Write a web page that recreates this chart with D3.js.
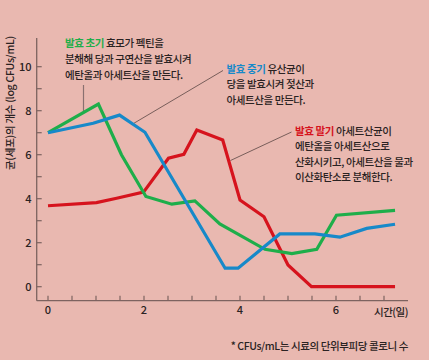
<!DOCTYPE html>
<html><head><meta charset="utf-8">
<script src="https://cdn.jsdelivr.net/npm/d3@7/dist/d3.min.js"></script>
<style>
html,body{margin:0;padding:0;background:#e9b8b0;}
svg{display:block;font-family:"Noto Sans CJK KR","Noto Sans",sans-serif;}
text{font-weight:500;}
</style></head><body>
<svg id="c" width="429" height="360"></svg>
<script>
const xTicks = [0, 2, 4, 6];
const yTicks = [0, 2, 4, 6, 8, 10];
const seriesNames = ["초기", "중기", "말기"];
const greenDays = [0, 1.05, 1.53, 2.04, 2.58, 3.06, 3.58, 4.52, 5.08, 5.6, 6.01, 7.23];
const greenVals = [7.0, 8.3, 6.0, 4.1, 3.75, 3.9, 2.85, 1.7, 1.5, 1.7, 3.25, 3.47];
const blueDays = [0, 0.94, 1.49, 2.02, 3.69, 3.96, 4.83, 5.56, 6.08, 6.64, 7.23];
const blueVals = [7.0, 7.43, 7.8, 7.02, 0.84, 0.84, 2.4, 2.4, 2.25, 2.65, 2.84];
const redDays = [0, 1.01, 1.43, 1.99, 2.51, 2.83, 3.10, 3.64, 4.0, 4.5, 5.0, 5.49, 7.23];
const redVals = [3.68, 3.82, 4.02, 4.3, 5.84, 6.02, 7.12, 6.67, 3.94, 3.18, 0.99, 0, 0];

const svg = d3.select("#c");
const x = d3.scaleLinear().domain([0, 7]).range([48, 384]);
const y = d3.scaleLinear().domain([0, 10]).range([286.7, 66.7]);
const axisCol = "#7d6360";
const axisX = 36.7, axisY = 300.7;

svg.append("line").attr("x1", axisX).attr("x2", axisX).attr("y1", 38).attr("y2", axisY)
  .attr("stroke", axisCol).attr("stroke-width", 1.3);
svg.append("line").attr("x1", axisX).attr("x2", 408).attr("y1", axisY).attr("y2", axisY)
  .attr("stroke", axisCol).attr("stroke-width", 1.3);

const yMinor = d3.range(0, 11, 1);
svg.selectAll(".yt").data(yMinor).enter().append("line")
  .attr("x1", axisX).attr("x2", axisX + 5).attr("y1", d => y(d)).attr("y2", d => y(d))
  .attr("stroke", axisCol).attr("stroke-width", 1.2);
svg.selectAll(".yl").data(yTicks).enter().append("text")
  .attr("x", 31.5).attr("y", d => y(d)).attr("dy", "0.35em").attr("text-anchor", "end")
  .attr("font-size", 11).attr("fill", "#2a2222").text(d => d);

const xMinor = d3.range(0, 7.01, 0.5);
svg.selectAll(".xt").data(xMinor).enter().append("line")
  .attr("x1", d => x(d)).attr("x2", d => x(d)).attr("y1", axisY).attr("y2", axisY - 5)
  .attr("stroke", axisCol).attr("stroke-width", 1.2);
svg.selectAll(".xl").data(xTicks).enter().append("text")
  .attr("x", d => x(d)).attr("y", 310).attr("dy", "0.35em").attr("text-anchor", "middle")
  .attr("font-size", 11).attr("fill", "#2a2222").text(d => d);

svg.append("text").attr("x", 408).attr("y", 312).attr("dy", "0.35em").attr("text-anchor", "end")
  .attr("font-size", 10.5).attr("fill", "#2a2222").attr("letter-spacing", -0.5).text("시간(일)");

svg.append("text").attr("transform", "translate(10,103) rotate(-90)")
  .attr("text-anchor", "middle").attr("dy", "0.35em")
  .attr("font-size", 10.5).attr("fill", "#2a2222").attr("letter-spacing", -0.3)
  .text("균(세포)의 개수 (log CFUs/mL)");

const leadCol = "#5a4644";
svg.append("line").attr("x1", 83.5).attr("y1", 85).attr("x2", 83.5).attr("y2", 111)
  .attr("stroke", "#8a7070").attr("stroke-width", 1.2);
svg.append("line").attr("x1", 223).attr("y1", 70.5).attr("x2", 133.5).attr("y2", 123.5)
  .attr("stroke", leadCol).attr("stroke-width", 0.8);
svg.append("line").attr("x1", 291.5).attr("y1", 132).attr("x2", 230.5).attr("y2", 160.5)
  .attr("stroke", leadCol).attr("stroke-width", 0.8);

const line = d3.line().x(d => x(d[0])).y(d => y(d[1]));
const series = [
  {days: greenDays, vals: greenVals, color: "#1eae4a"},
  {days: blueDays, vals: blueVals, color: "#1789c9"},
  {days: redDays, vals: redVals, color: "#d6131d"}
];
[series[2], series[0], series[1]].forEach(s => {
  svg.append("path").datum(s.days.map((d, i) => [d, s.vals[i]]))
    .attr("d", line).attr("fill", "none").attr("stroke", s.color)
    .attr("stroke-width", 3.2).attr("stroke-linejoin", "miter");
});

function annot(xp, y0, lh, label, color, rest, lines) {
  const t = svg.append("text").attr("x", xp).attr("y", y0).attr("dy", "0.35em")
    .attr("font-size", 10.5).attr("fill", "#2a2222").attr("letter-spacing", -0.4);
  t.append("tspan").attr("fill", color).attr("font-weight", "bold").text(label);
  t.append("tspan").text(" " + rest);
  lines.forEach((l, i) => {
    svg.append("text").attr("x", xp).attr("y", y0 + lh * (i + 1)).attr("dy", "0.35em")
      .attr("font-size", 10.5).attr("fill", "#2a2222").attr("letter-spacing", -0.4).text(l);
  });
}
annot(65, 43.5, 16, "발효 " + seriesNames[0], "#1eae4a", "효모가 펙틴을",
  ["분해해 당과 구연산을 발효시켜", "에탄올과 아세트산을 만든다."]);
annot(226.5, 69, 15.7, "발효 " + seriesNames[1], "#1789c9", "유산균이",
  ["당을 발효시켜 젖산과", "아세트산을 만든다."]);
annot(295, 131.5, 15.3, "발효 " + seriesNames[2], "#d6131d", "아세트산균이",
  ["에탄올을 아세트산으로", "산화시키고, 아세트산을 물과", "이산화탄소로 분해한다."]);

svg.append("text").attr("x", 408).attr("y", 346.5).attr("dy", "0.35em").attr("text-anchor", "end")
  .attr("font-size", 10.5).attr("fill", "#2a2222").attr("letter-spacing", -0.4)
  .text("* CFUs/mL는 시료의 단위부피당 콜로니 수");
</script>
</body></html>
